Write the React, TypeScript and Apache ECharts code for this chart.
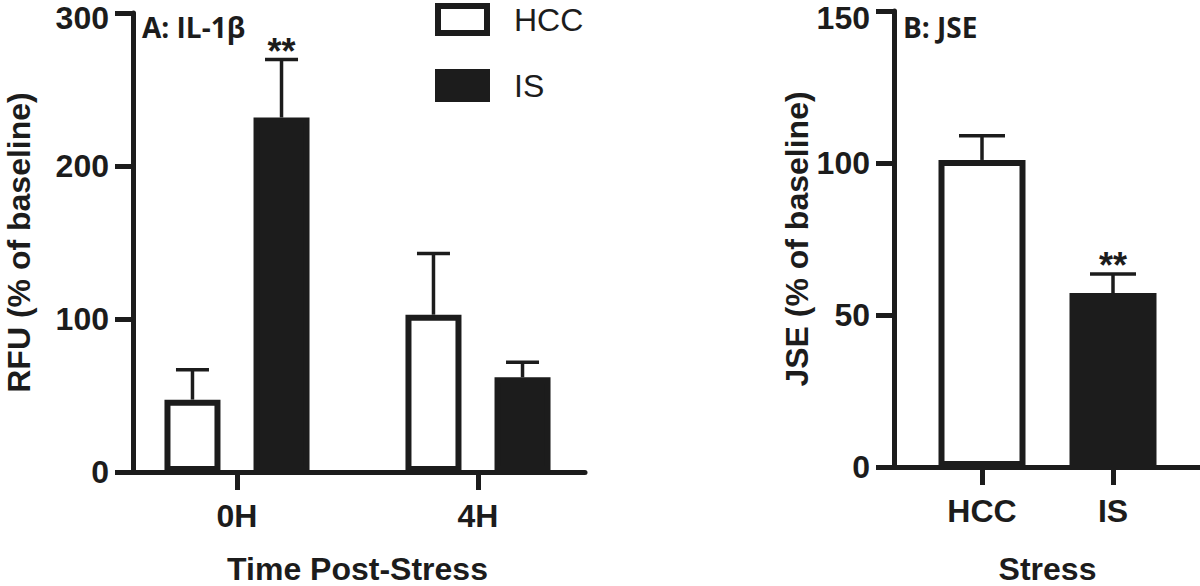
import React, { useEffect, useRef } from "react";
import * as echarts from "echarts";

// Panel A: IL-1β
const timeCategories = ["0H", "4H"];
const hccMeans = [47.3, 102.8];
const hccErr = [19.6, 40];
const hccSig = ["", ""];
const isMeans = [231.7, 61.9];
const isErr = [37.9, 9.8];
const isSig = ["**", ""];
const yMinA = 0;
const yMaxA = 300;
const yIntervalA = 100;

// Panel B: JSE
const stressCategories = ["HCC", "IS"];
const jseMeans = [101, 57.2];
const jseErr = [8, 6.3];
const jseSig = ["", "**"];
const yMinB = 0;
const yMaxB = 150;
const yIntervalB = 50;

const seriesNames = ["HCC", "IS"];

const INK = "#1c1c1c";
const NUM_FONT = "'Liberation Sans', Arial, sans-serif";
const TITLE_FONT = "'Open Sans', Lato, sans-serif";

const BAR_W_A = 56;
const BAR_GAP_A = 0.59;
const BAR_W_B = 87;

function errorRenderer(offset: number, capHalf: number, sigs: string[]) {
  return (params: any, api: any) => {
    const x = api.value(0);
    const m = api.value(1);
    const e = api.value(2);
    const sig = sigs[params.dataIndex] || "";
    const base = api.coord([x, m]);
    const top = api.coord([x, m + e]);
    const cx = base[0] + offset;
    const children: any[] = [
      {
        type: "line",
        shape: { x1: cx, y1: base[1], x2: cx, y2: top[1] },
        style: { stroke: INK, lineWidth: 3.5 },
      },
      {
        type: "line",
        shape: { x1: cx - capHalf, y1: top[1], x2: cx + capHalf, y2: top[1] },
        style: { stroke: INK, lineWidth: 3.5 },
      },
    ];
    if (sig) {
      children.push({
        type: "text",
        style: {
          text: sig,
          x: cx,
          y: top[1] + 10,
          align: "center",
          verticalAlign: "bottom",
          fill: INK,
          fontSize: 36,
          fontWeight: "bold",
          fontFamily: NUM_FONT,
        },
      });
    }
    return { type: "group", children };
  };
}

export default function App() {
  const ref = useRef<HTMLDivElement>(null);

  useEffect(() => {
    if (!ref.current) return;
    const chart = echarts.init(ref.current, null, { renderer: "svg" });

    const axisLine = { show: true, lineStyle: { color: INK, width: 5 } };
    const numLabel = {
      fontSize: 32,
      lineHeight: 26,
      fontWeight: "bold" as const,
      fontFamily: NUM_FONT,
      color: INK,
    };
    const yLabel = (maxV: number, pad: number) => ({
      ...numLabel,
      margin: 24,
      formatter: (v: number) => (v === maxV ? `{t|${v}}` : `${v}`),
      rich: {
        t: {
          fontSize: 32,
          lineHeight: 26,
          fontWeight: "bold",
          fontFamily: NUM_FONT,
          color: INK,
          padding: [pad, 0, 0, 0],
        },
      },
    });
    const nameStyle = {
      fontSize: 32,
      lineHeight: 30,
      fontWeight: "bold" as const,
      fontFamily: NUM_FONT,
      color: INK,
    };

    const offA = (BAR_W_A * (1 + BAR_GAP_A)) / 2;
    const gridBase = { containLabel: false, outerBoundsMode: "none" };

    const option: any = {
      animation: false,
      backgroundColor: "#ffffff",
      title: [
        {
          text: "A: IL-1β",
          left: 142,
          top: 12,
          padding: 0,
          textStyle: { fontFamily: TITLE_FONT, fontWeight: "bold", fontSize: 28, lineHeight: 30, color: INK },
        },
        {
          text: "B: JSE",
          left: 903,
          top: 12,
          padding: 0,
          textStyle: { fontFamily: TITLE_FONT, fontWeight: "bold", fontSize: 28, lineHeight: 30, color: INK },
        },
      ],
      legend: {
        data: seriesNames,
        orient: "vertical",
        left: 435,
        top: 3,
        padding: 0,
        icon: "rect",
        itemWidth: 49,
        itemHeight: 27,
        itemGap: 33,
        selectedMode: false,
        itemStyle: { borderWidth: 6, borderColor: INK },
        textStyle: {
          fontSize: 32,
          lineHeight: 27,
          fontFamily: NUM_FONT,
          color: INK,
          padding: [0, 0, 0, 22],
        },
      },
      grid: [
        { ...gridBase, left: 133, top: 13, width: 452, height: 459 },
        { ...gridBase, left: 116.5, top: 13, width: 482, height: 459 },
        { ...gridBase, left: 894, top: 11, width: 306, height: 456 },
        { ...gridBase, left: 916.5, top: 11, width: 262, height: 456 },
      ],
      xAxis: [
        {
          gridIndex: 0,
          type: "value",
          min: 0,
          max: 1,
          axisLine,
          axisTick: { show: false },
          axisLabel: { show: false },
          splitLine: { show: false },
        },
        {
          gridIndex: 1,
          type: "category",
          data: timeCategories,
          axisLine: { show: false },
          axisTick: { show: true, alignWithLabel: true, length: 18, lineStyle: { color: INK, width: 5 } },
          axisLabel: { ...numLabel, margin: 31 },
          name: "Time Post-Stress",
          nameLocation: "middle",
          nameGap: 82,
          nameTextStyle: nameStyle,
        },
        {
          gridIndex: 2,
          type: "value",
          min: 0,
          max: 1,
          axisLine,
          axisTick: { show: false },
          axisLabel: { show: false },
          splitLine: { show: false },
        },
        {
          gridIndex: 3,
          type: "category",
          data: stressCategories,
          axisLine: { show: false },
          axisTick: { show: true, alignWithLabel: true, length: 18, lineStyle: { color: INK, width: 5 } },
          axisLabel: { ...numLabel, margin: 31 },
          name: "Stress",
          nameLocation: "middle",
          nameGap: 87,
          nameTextStyle: nameStyle,
        },
      ],
      yAxis: [
        {
          gridIndex: 0,
          type: "value",
          min: yMinA,
          max: yMaxA,
          interval: yIntervalA,
          axisLine,
          axisTick: { show: true, length: 18, lineStyle: { color: INK, width: 5 } },
          axisLabel: yLabel(yMaxA, 9),
          splitLine: { show: false },
          name: "RFU (% of baseline)",
          nameLocation: "middle",
          nameGap: 99,
          nameTextStyle: nameStyle,
        },
        { gridIndex: 1, type: "value", min: yMinA, max: yMaxA, interval: yIntervalA, show: false },
        {
          gridIndex: 2,
          type: "value",
          min: yMinB,
          max: yMaxB,
          interval: yIntervalB,
          axisLine,
          axisTick: { show: true, length: 18, lineStyle: { color: INK, width: 5 } },
          axisLabel: yLabel(yMaxB, 14),
          splitLine: { show: false },
          name: "JSE (% of baseline)",
          nameLocation: "middle",
          nameGap: 46,
          nameTextStyle: nameStyle,
        },
        { gridIndex: 3, type: "value", min: yMinB, max: yMaxB, interval: yIntervalB, show: false },
      ],
      series: [
        {
          name: "HCC",
          type: "bar",
          xAxisIndex: 1,
          yAxisIndex: 1,
          data: hccMeans,
          barWidth: BAR_W_A,
          barGap: `${BAR_GAP_A * 100}%`,
          itemStyle: { color: "#ffffff", borderColor: INK, borderWidth: 6 },
        },
        {
          name: "IS",
          type: "bar",
          xAxisIndex: 1,
          yAxisIndex: 1,
          data: isMeans,
          barWidth: BAR_W_A,
          barGap: `${BAR_GAP_A * 100}%`,
          itemStyle: { color: INK, borderColor: INK, borderWidth: 6 },
        },
        {
          name: "HCC err",
          type: "custom",
          xAxisIndex: 1,
          yAxisIndex: 1,
          z: 5,
          clip: false,
          renderItem: errorRenderer(-offA, 16.5, hccSig),
          data: hccMeans.map((m, i) => [i, m, hccErr[i]]),
        },
        {
          name: "IS err",
          type: "custom",
          xAxisIndex: 1,
          yAxisIndex: 1,
          z: 5,
          clip: false,
          renderItem: errorRenderer(offA, 16.5, isSig),
          data: isMeans.map((m, i) => [i, m, isErr[i]]),
        },
        {
          name: "JSE",
          type: "bar",
          xAxisIndex: 3,
          yAxisIndex: 3,
          barWidth: BAR_W_B,
          data: jseMeans.map((v, i) => ({
            value: v,
            itemStyle: {
              color: i === 0 ? "#ffffff" : INK,
              borderColor: INK,
              borderWidth: 6,
            },
          })),
        },
        {
          name: "JSE err",
          type: "custom",
          xAxisIndex: 3,
          yAxisIndex: 3,
          z: 5,
          clip: false,
          renderItem: errorRenderer(0, 23, jseSig),
          data: jseMeans.map((m, i) => [i, m, jseErr[i]]),
        },
      ],
    };

    chart.setOption(option);
    return () => chart.dispose();
  }, []);

  return (
    <div
      ref={ref}
      style={{ position: "fixed", left: 0, top: 0, width: 1200, height: 586, background: "#fff" }}
    />
  );
}
